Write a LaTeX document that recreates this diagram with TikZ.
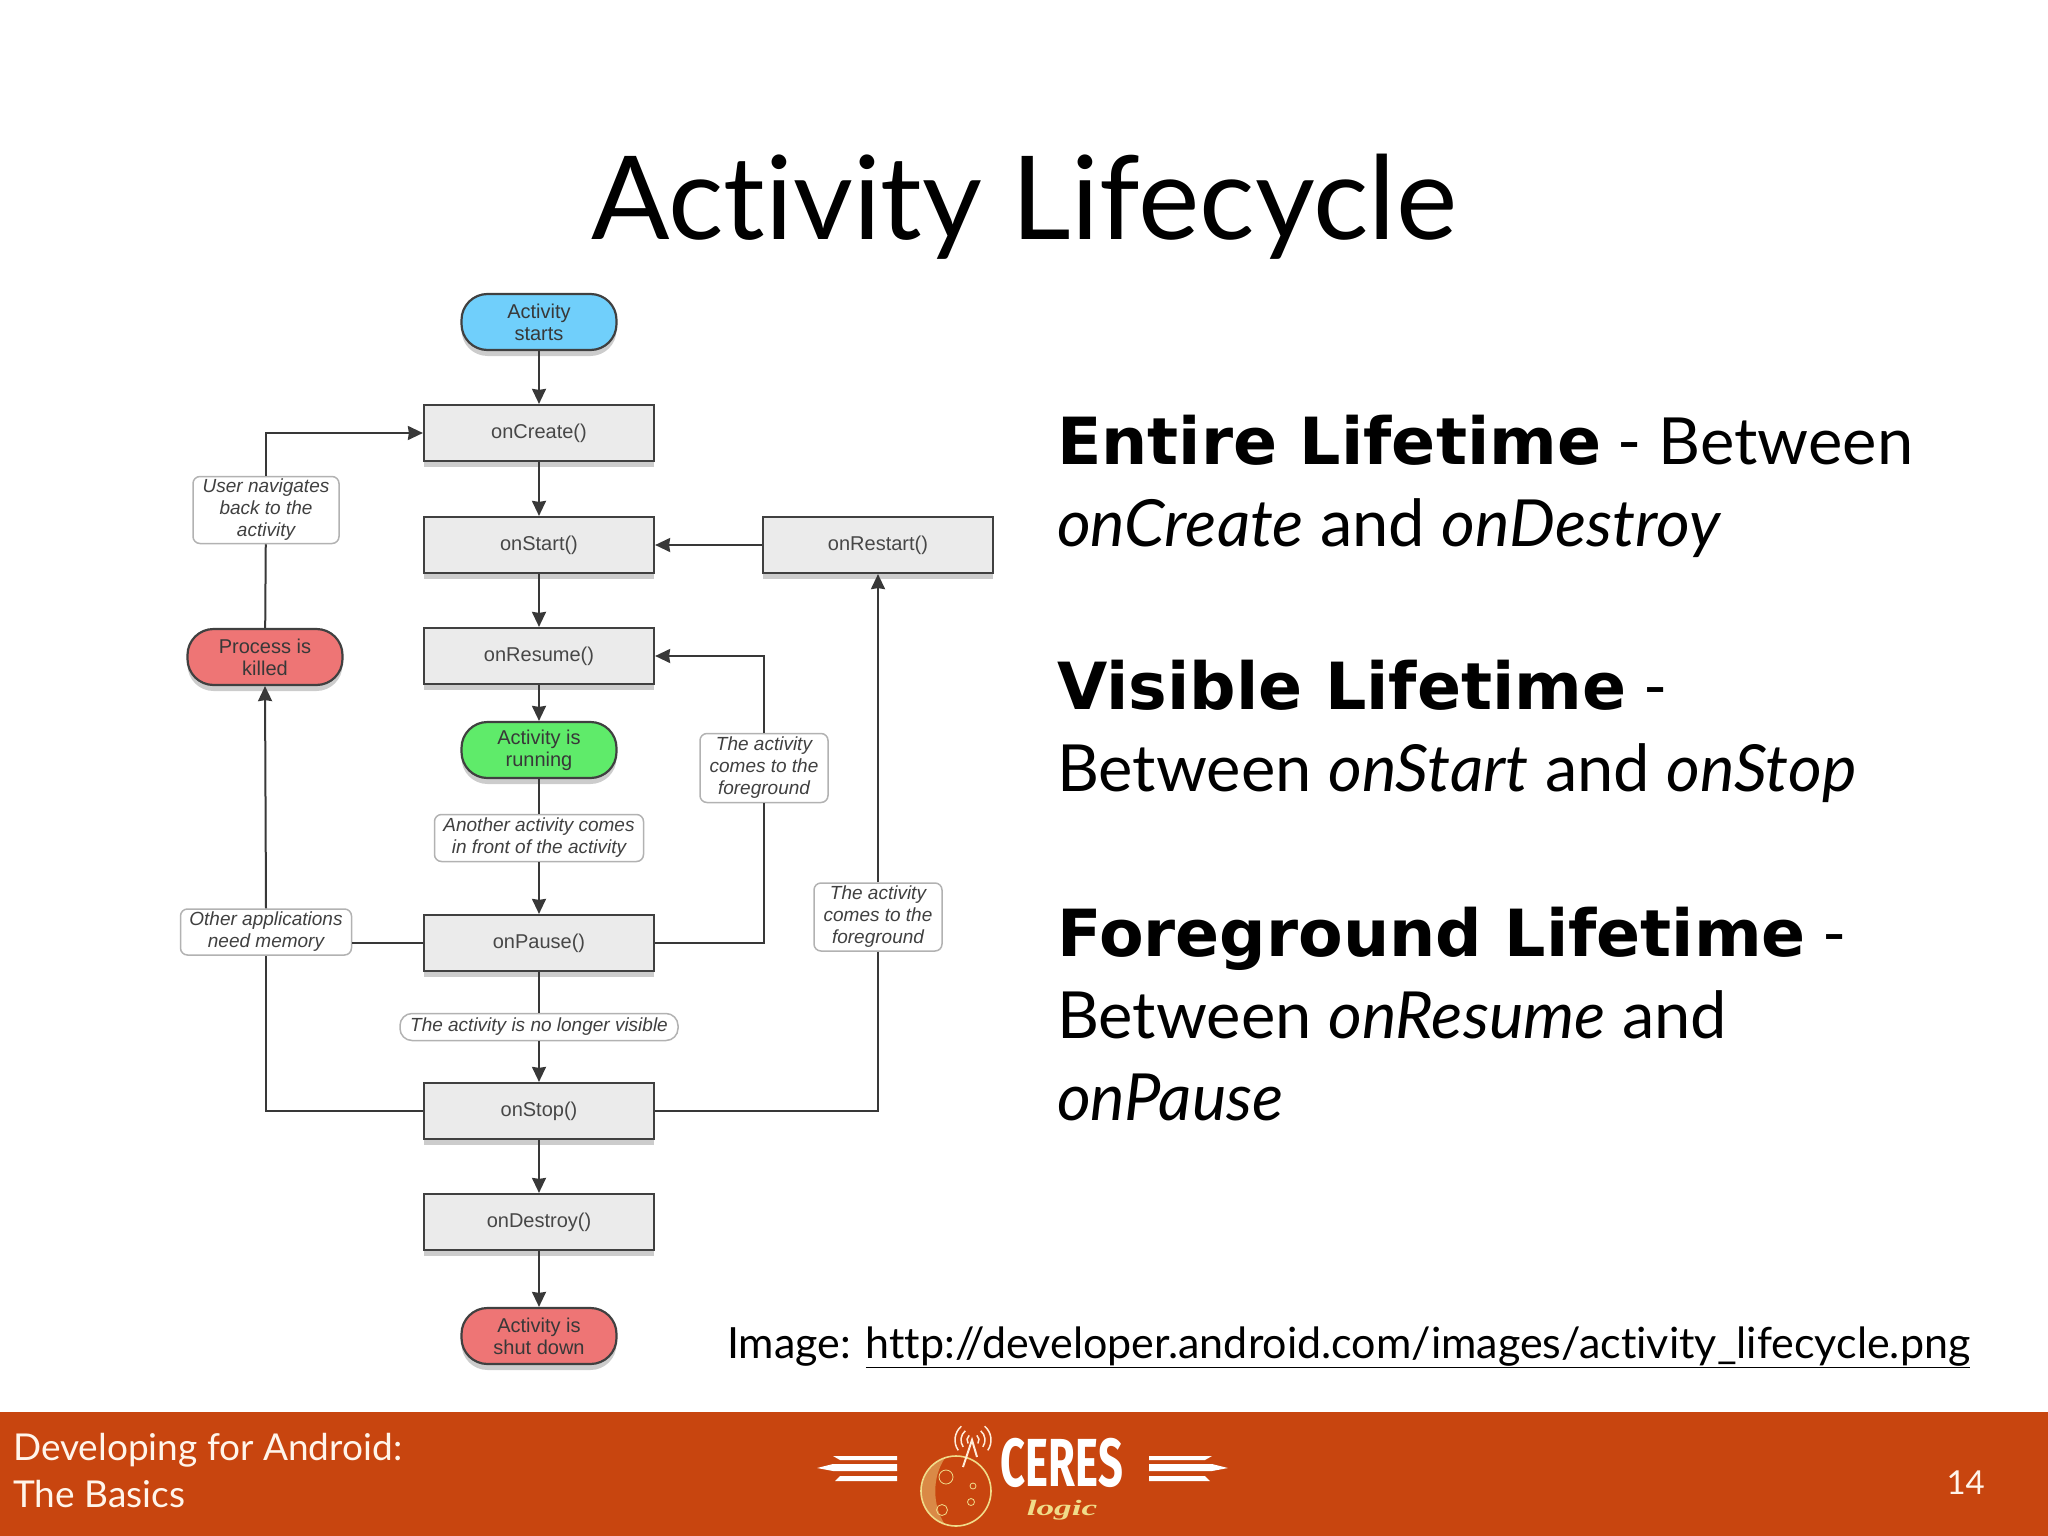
\documentclass[tikz,border=0pt]{standalone}
\usepackage{fontspec}
\setmainfont{Lato}[Ligatures=NoCommon, BoldFont={DejaVu Sans Bold}]
\newfontfamily\flowfont{Liberation Sans}
\newfontfamily\logofont{Fira Sans}
\newfontfamily\logicfont{Liberation Serif}
\usetikzlibrary{shadows,arrows.meta}
\definecolor{footerorange}{HTML}{C8450F}
\definecolor{logoyellow}{HTML}{F0DC8A}
\definecolor{startblue}{HTML}{70CFFB}
\definecolor{runninggreen}{HTML}{5FEB6A}
\definecolor{killedred}{HTML}{EE7575}
\begin{document}
\begin{tikzpicture}[
        x=1pt, y=-1pt,
        >={Stealth[length=15pt,width=14pt,inset=1pt]},
        flowline/.style={draw=black!78, line width=2pt},
        boxbase/.style={draw=black!75, line width=2.2pt, align=center, text=black!72, inner sep=0pt,
            font=\flowfont\fontsize{20}{22}\selectfont,
            drop shadow={shadow xshift=0pt, shadow yshift=-6pt, opacity=.4}},
        methodbox/.style={boxbase, fill=black!8, minimum width=230pt, minimum height=56pt},
        pillbox/.style={boxbase, rounded corners=26pt, minimum width=155pt, minimum height=56pt, text=black!78},
        notebox/.style={draw=black!30, line width=1.5pt, fill=white, rounded corners=7pt, align=center, inner sep=0pt,
            text=black!75, font=\flowfont\itshape\fontsize{19}{22}\selectfont},
        slidetext/.style={anchor=base west, align=left, inner sep=0pt, font=\fontsize{65}{82}\selectfont},
        logobar/.style={fill=white, draw=none}
    ]
    \useasboundingbox (0,0) rectangle (2048,1536);
    \fill[footerorange] (0,1412) rectangle (2048,1536);

    \node[anchor=base, inner sep=0pt, font=\fontsize{116}{116}\selectfont] (title) at (1024,239) {Activity Lifecycle};

    % lifecycle methods
    \node[pillbox, fill=startblue] (starts) at (539,322) {Activity\\starts};
    \node[methodbox] (onCreate) at (539,433) {onCreate()};
    \node[methodbox] (onStart) at (539,545) {onStart()};
    \node[methodbox] (onResume) at (539,656) {onResume()};
    \node[pillbox, fill=runninggreen] (running) at (539,750) {Activity is\\running};
    \node[methodbox] (onPause) at (539,943) {onPause()};
    \node[methodbox] (onStop) at (539,1111) {onStop()};
    \node[methodbox] (onDestroy) at (539,1222) {onDestroy()};
    \node[pillbox, fill=killedred] (shutdown) at (539,1336) {Activity is\\shut down};
    \node[methodbox] (onRestart) at (878,545) {onRestart()};
    \node[pillbox, fill=killedred] (killed) at (265,657) {Process is\\killed};

    % notes on the edges
    \node[notebox, minimum width=146pt, minimum height=67pt] (navigates) at (266,510) {User navigates\\back to the\\activity};
    \node[notebox, minimum width=171pt, minimum height=46pt] (memory) at (266,932) {Other applications\\need memory};
    \node[notebox, minimum width=209pt, minimum height=47pt] (infront) at (539,838) {Another activity comes\\in front of the activity};
    \node[notebox, minimum width=278pt, minimum height=27pt, rounded corners=12pt] (novisible) at (539,1027) {The activity is no longer visible};
    \node[notebox, minimum width=128pt, minimum height=69pt] (foregroundA) at (764,768) {The activity\\comes to the\\foreground};
    \node[notebox, minimum width=128pt, minimum height=68pt] (foregroundB) at (878,917) {The activity\\comes to the\\foreground};

    % connectors
    \draw[flowline, ->] (starts) -- (onCreate);
    \draw[flowline, ->] (onCreate) -- (onStart);
    \draw[flowline, ->] (onStart) -- (onResume);
    \draw[flowline, ->] (onResume) -- (running);
    \draw[flowline] (running) -- (infront);
    \draw[flowline, ->] (infront) -- (onPause);
    \draw[flowline] (onPause) -- (novisible);
    \draw[flowline, ->] (novisible) -- (onStop);
    \draw[flowline, ->] (onStop) -- (onDestroy);
    \draw[flowline, ->] (onDestroy) -- (shutdown);
    \draw[flowline, ->] (onRestart) -- (onStart);
    \draw[flowline] (onStop.east) -| (foregroundB.south);
    \draw[flowline, ->] (foregroundB) -- (onRestart);
    \draw[flowline] (onPause.east) -| (foregroundA.south);
    \draw[flowline, ->] (foregroundA.north) |- (onResume.east);
    \draw[flowline] (onStop.west) -| (memory.south);
    \draw[flowline] (onPause.west) -- (onPause.west -| memory.east);
    \draw[flowline, ->] (memory.north) -- (killed.south);
    \draw[flowline] (killed) -- (navigates);
    \draw[flowline, ->] (navigates.north) |- (onCreate.west);

    % right hand text
    \node[slidetext] (entire) at (1057,546) {\textbf{Entire Lifetime} - Between\\\textit{onCreate} and \textit{onDestroy}};
    \node[slidetext] (visible) at (1057,791) {\textbf{Visible Lifetime} -\\Between \textit{onStart} and \textit{onStop}};
    \node[slidetext] (foreground) at (1057,1120) {\textbf{Foreground Lifetime} -\\Between \textit{onResume} and\\\textit{onPause}};
    \node[anchor=base west, inner sep=0pt, font=\fontsize{43}{50}\selectfont] (source) at (727,1358) {Image: \underline{http://developer.android.com/images/activity\_lifecycle.png}};

    % footer
    \node[anchor=base west, align=left, inner sep=0pt, text=white!92!orange, font=\fontsize{37}{47}\selectfont] (talk) at (13,1507) {Developing for Android:\\The Basics};
    \node[anchor=base east, inner sep=0pt, text=white!92!orange, font=\fontsize{33}{40}\selectfont] (page) at (1985,1494) {14};

    % logo
    \fill[logobar] (817,1468) -- (833,1464) -- (897,1464) -- (897,1471) -- (833,1471) -- cycle;
    \fill[logobar] (833,1456) -- (897,1456) -- (897,1460) -- (840,1460) -- cycle;
    \fill[logobar] (840,1476) -- (897,1476) -- (897,1481) -- (835,1481) -- cycle;
    \fill[logobar] (1228,1468) -- (1212,1464) -- (1149,1464) -- (1149,1471) -- (1212,1471) -- cycle;
    \fill[logobar] (1212,1456) -- (1149,1456) -- (1149,1460) -- (1205,1460) -- cycle;
    \fill[logobar] (1205,1476) -- (1149,1476) -- (1149,1481) -- (1210,1481) -- cycle;
    \fill[logoyellow, opacity=.45] (945,1458) arc (-108:-252:35) .. controls (932,1505) and (932,1477) .. (945,1458);
    \draw[logoyellow, line width=1.6pt] (956,1491) circle (35);
    \draw[logoyellow, line width=.8pt] (946,1477) circle (7) (942,1510) circle (5.5) (973,1486) circle (3) (971,1502) circle (3.5);
    \draw[white!85!orange, line width=2pt] (963,1467) -- (972,1440) -- (977,1457);
    \foreach \arcr in {6,12,18} {
        \draw[white!85!orange, line width=1.5pt] (973,1440) ++(-130:\arcr) arc (-130:-215:\arcr);
        \draw[white!85!orange, line width=1.5pt] (973,1440) ++(-50:\arcr) arc (-50:35:\arcr);
    }
    \node[inner sep=0pt, text=white, font=\logofont\bfseries\fontsize{68}{68}\selectfont, xscale=.64] (ceres) at (1062,1463) {CERES};
    \node[inner sep=0pt, text=logoyellow, font=\logicfont\bfseries\itshape\fontsize{22}{22}\selectfont, xscale=1.6] (logic) at (1062,1510) {logic};
\end{tikzpicture}
\end{document}
